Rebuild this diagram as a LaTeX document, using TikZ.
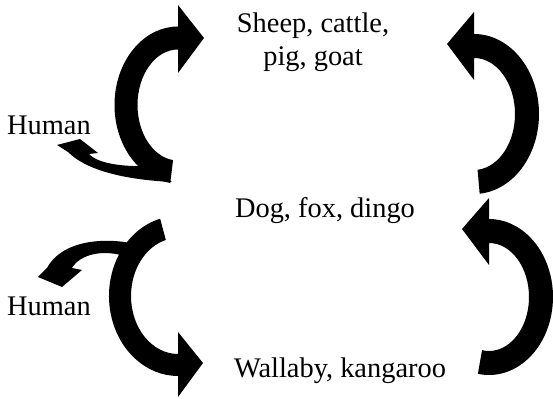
\documentclass[tikz,border=0pt]{standalone}
\usepackage{fontspec}
\setmainfont{Liberation Serif}
\tikzset{animal/.style={inner sep=0pt,font=\fontsize{14.2pt}{16.5pt}\selectfont,align=center},
  blockarrow/.style={fill=black}}
\begin{document}
\begin{tikzpicture}[x=0.5pt,y=-0.5pt]
\useasboundingbox (0,0) rectangle (553,399);
\node[animal] (sheep) at (313,42) {Sheep, cattle,\\pig, goat};
\node[animal,anchor=base] (dog) at (325,218) {Dog, fox, dingo};
\node[animal,anchor=base] (wallaby) at (340,378) {Wallaby, kangaroo};
\node[animal,anchor=base] (human1) at (49,135) {Human};
\node[animal,anchor=base] (human2) at (49,316) {Human};
\fill[blockarrow] (178,105) ++(97:63.5 and 78.5) arc[start angle=97,end angle=270,x radius=63.5,y radius=78.5] -- (178,5) -- (204,38) -- (178,73) -- (178,49.5) arc[start angle=270,end angle=97,x radius=40.5,y radius=55.5] -- cycle;
\fill[blockarrow] (474,114) ++(85:65 and 80) arc[start angle=85,end angle=-90,x radius=65,y radius=80] -- (474,12) -- (447,44) -- (474,80) -- (474,58) arc[start angle=-90,end angle=85,x radius=41,y radius=56] -- cycle;
\fill[blockarrow] (178,296) ++(255:69 and 80) arc[start angle=255,end angle=90,x radius=69,y radius=80] -- (178,397) -- (203,363) -- (178,332) -- (178,354) arc[start angle=90,end angle=255,x radius=47,y radius=58] -- cycle;
\fill[blockarrow] (489,297) ++(100:64 and 78) arc[start angle=100,end angle=-90,x radius=64,y radius=78] -- (489,198) -- (462,229) -- (489,265) -- (489,243) arc[start angle=-90,end angle=100,x radius=40,y radius=54] -- cycle;
\fill[blockarrow] (172,182) .. controls (130,180) and (88,172) .. (68,152) -- (57,145) -- (80,139) -- (98,153) -- (89,154) .. controls (98,164) and (125,167) .. (150,166) -- cycle;
\fill[blockarrow] (135,244) .. controls (105,237) and (62,240) .. (47,268) -- (38,277) -- (62,287) -- (82,270) -- (72,268) .. controls (80,254) and (105,248) .. (130,258) -- cycle;
\end{tikzpicture}
\end{document}
